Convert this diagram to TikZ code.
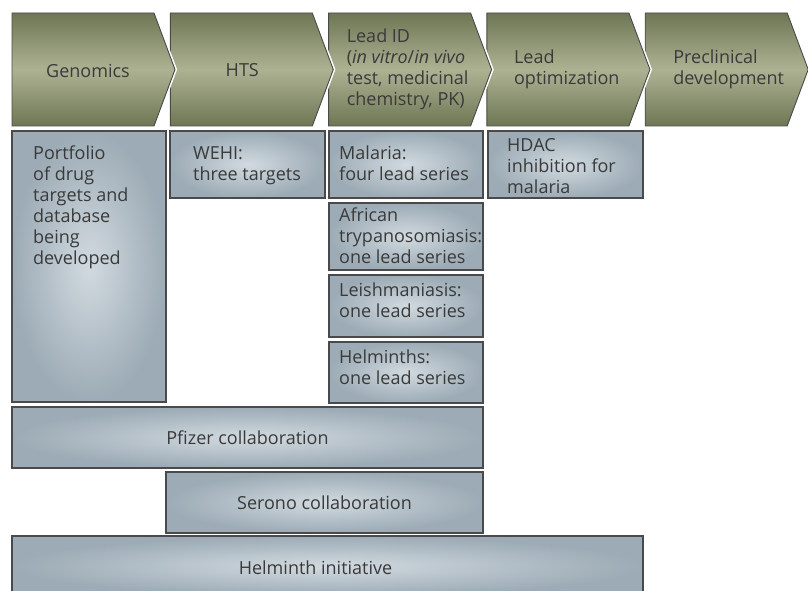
\documentclass[tikz,border=0pt]{standalone}
\usepackage{fontspec}
\setmainfont{Open Sans}
\usetikzlibrary{positioning}
\definecolor{olivedark}{HTML}{6E7654}
\definecolor{olivelight}{HTML}{ADB293}
\definecolor{bluedark}{HTML}{9CABB5}
\definecolor{bluelight}{HTML}{D2DAE0}
\definecolor{edgegrey}{HTML}{4A4A4A}
\definecolor{textgrey}{HTML}{3A3A3A}
\begin{document}
\begin{tikzpicture}[x=1pt,y=-1pt,
    stage/.style={draw=edgegrey,line width=0.9pt,top color=olivedark,bottom color=olivedark,middle color=olivelight},
    halo/.style={draw=white,line width=4pt},
    panel/.style={draw=edgegrey,line width=1.1pt,inner color=bluelight,outer color=bluedark,
        rectangle,anchor=north west,inner sep=0pt,outer sep=0pt},
    txt/.style={text=textgrey,align=left,inner sep=0pt,font=\fontsize{18}{21}\selectfont}]
\useasboundingbox (0,0) rectangle (808,591);

% pipeline stages, drawn right to left so each tip sits over the next one
\foreach \i/\lx in {4/645.2,3/486.9,2/328.6,1/170.3,0/12} {
    \path[halo] (\lx,13) -- ++(142,0) -- ++(21,56.5) -- ++(-21,56.5) -- ++(-142,0) -- cycle;
    \path[stage] (\lx,13) -- ++(142,0) -- ++(21,56.5) -- ++(-21,56.5) -- ++(-142,0) -- cycle;
    \coordinate (stage\i) at (\lx,69.5);
}
\node[txt] (genomics) at ([xshift=76pt,yshift=-1pt]stage0) {Genomics};
\node[txt] (hts) at ([xshift=72pt,yshift=-1pt]stage1) {HTS};
\node[txt,right=18pt of stage2] (leadid) {Lead ID\\(\textit{in vitro}/\textit{in vivo}\\test, medicinal\\chemistry, PK)};
\node[txt,right=27pt of stage3] (leadopt) {Lead\\optimization};
\node[txt,right=28pt of stage4] (preclin) {Preclinical\\development};

% boxes
\node[panel,minimum width=154pt,minimum height=271pt] (portfolio) at (12,131) {};
\node[panel,minimum width=155pt,minimum height=67pt] (wehi) at (170,131) {};
\node[panel,minimum width=154pt,minimum height=67pt] (malaria) at (329,131) {};
\node[panel,minimum width=155pt,minimum height=67pt] (hdac) at (488,131) {};
\node[panel,minimum width=154pt,minimum height=67pt] (african) at (329,203) {};
\node[panel,minimum width=154pt,minimum height=62pt] (leish) at (329,275) {};
\node[panel,minimum width=154pt,minimum height=61pt] (helminths) at (329,342) {};
\node[panel,minimum width=471pt,minimum height=61pt] (pfizer) at (12,407) {};
\node[panel,minimum width=317pt,minimum height=61pt] (serono) at (166,472) {};
\node[panel,minimum width=631pt,minimum height=60pt] (helminit) at (12,536) {};

% box texts
\node[txt,anchor=north west,below right=15pt and 21pt of portfolio.north west] (portfoliotxt)
    {Portfolio\\of drug\\targets and\\database\\being\\developed};
\node[txt,anchor=north west,below right=15pt and 23pt of wehi.north west] (wehitxt) {WEHI:\\three targets};
\node[txt,anchor=north west,below right=15pt and 10pt of malaria.north west] (malariatxt) {Malaria:\\four lead series};
\node[txt,anchor=north west,below right=7pt and 19pt of hdac.north west] (hdactxt) {HDAC\\inhibition for\\malaria};
\node[txt,anchor=north west,below right=5pt and 10pt of african.north west] (africantxt)
    {African\\trypanosomiasis:\\one lead series};
\node[txt,anchor=north west,below right=8pt and 10pt of leish.north west] (leishtxt) {Leishmaniasis:\\one lead series};
\node[txt,anchor=north west,below right=8pt and 10pt of helminths.north west] (helminthstxt) {Helminths:\\one lead series};
\node[txt] (pfizertxt) at (pfizer.center) {Pfizer collaboration};
\node[txt] (seronotxt) at (serono.center) {Serono collaboration};
\node[txt] (helminittxt) at ([xshift=-12pt,yshift=-2pt]helminit.center) {Helminth initiative};
\end{tikzpicture}
\end{document}
